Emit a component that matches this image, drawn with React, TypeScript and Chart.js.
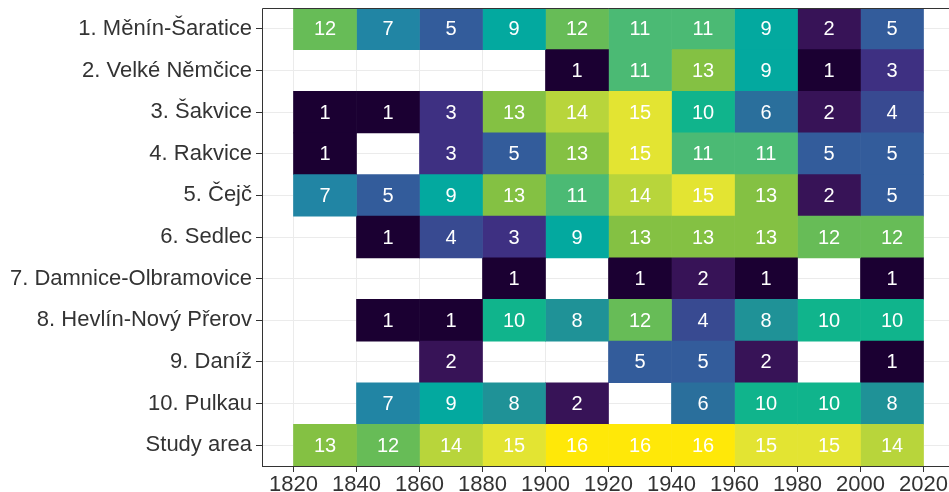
import React, { useEffect, useRef } from "react";
import { Chart, registerables } from "chart.js";

Chart.register(...registerables);

const sites = [
  "1. Měnín-Šaratice",
  "2. Velké Němčice",
  "3. Šakvice",
  "4. Rakvice",
  "5. Čejč",
  "6. Sedlec",
  "7. Damnice-Olbramovice",
  "8. Hevlín-Nový Přerov",
  "9. Daníž",
  "10. Pulkau",
  "Study area",
];

const periodStarts = [1820, 1840, 1860, 1880, 1900, 1920, 1940, 1960, 1980, 2000];
const periodLength = 20;
const xTicks = [1820, 1840, 1860, 1880, 1900, 1920, 1940, 1960, 1980, 2000, 2020];

// values per site, one entry per period (null = no data)
const menin = [12, 7, 5, 9, 12, 11, 11, 9, 2, 5];
const velkeNemcice = [null, null, null, null, 1, 11, 13, 9, 1, 3];
const sakvice = [1, 1, 3, 13, 14, 15, 10, 6, 2, 4];
const rakvice = [1, null, 3, 5, 13, 15, 11, 11, 5, 5];
const cejc = [7, 5, 9, 13, 11, 14, 15, 13, 2, 5];
const sedlec = [null, 1, 4, 3, 9, 13, 13, 13, 12, 12];
const damnice = [null, null, null, 1, null, 1, 2, 1, null, 1];
const hevlin = [null, 1, 1, 10, 8, 12, 4, 8, 10, 10];
const daniz = [null, null, 2, null, null, 5, 5, 2, null, 1];
const pulkau = [null, 7, 9, 8, 2, null, 6, 10, 10, 8];
const studyArea = [13, 12, 14, 15, 16, 16, 16, 15, 15, 14];

const rows: (number | null)[][] = [
  menin, velkeNemcice, sakvice, rakvice, cejc, sedlec, damnice, hevlin, daniz, pulkau, studyArea,
];

const palette = [
  "#1B0032", "#371357", "#3E3082", "#384A91", "#335C9B", "#2A6F9C", "#2185A4", "#1F9297",
  "#03A99F", "#10B48C", "#4BBA74", "#67BC57", "#84C143", "#B8D53B", "#E3E432", "#FFE808",
];

const FONT = "'Liberation Sans', Arial, Helvetica, sans-serif";

export default function App() {
  const ref = useRef<HTMLCanvasElement | null>(null);

  useEffect(() => {
    if (!ref.current) return;
    const datasets = periodStarts.map((start, pi) => {
      const vals = rows.map((r) => r[pi]);
      return {
        label: String(start),
        data: vals.map((v) => (v == null ? null : [start, start + periodLength])) as any,
        values: vals,
        backgroundColor: vals.map((v) => (v == null ? "rgba(0,0,0,0)" : palette[v - 1])),
        borderWidth: 0,
        barPercentage: 1,
        categoryPercentage: 1,
        grouped: false,
      };
    });

    const cellLabels = {
      id: "cellLabels",
      afterDatasetsDraw(chart: any) {
        const ctx = chart.ctx;
        ctx.save();
        ctx.fillStyle = "#FFFFFF";
        ctx.font = `20px ${FONT}`;
        ctx.textAlign = "center";
        ctx.textBaseline = "middle";
        chart.data.datasets.forEach((ds: any, di: number) => {
          const meta = chart.getDatasetMeta(di);
          meta.data.forEach((el: any, i: number) => {
            const v = ds.values[i];
            if (v == null) return;
            const p = el.getCenterPoint();
            ctx.fillText(String(v), p.x, p.y + 1);
          });
        });
        ctx.restore();
      },
      afterDraw(chart: any) {
        const { ctx, chartArea } = chart;
        ctx.save();
        ctx.strokeStyle = "#333333";
        ctx.lineWidth = 1;
        ctx.beginPath();
        ctx.moveTo(chartArea.left + 0.5, chartArea.bottom + 0.5);
        ctx.lineTo(chartArea.left + 0.5, chartArea.top + 0.5);
        ctx.lineTo(chartArea.right, chartArea.top + 0.5);
        ctx.moveTo(chartArea.left, chartArea.bottom + 0.5);
        ctx.lineTo(chartArea.right, chartArea.bottom + 0.5);
        ctx.stroke();
        ctx.restore();
      },
    };

    const chart = new Chart(ref.current, {
      type: "bar",
      data: { labels: sites, datasets: datasets as any },
      options: {
        indexAxis: "y",
        animation: false,
        responsive: false,
        layout: { padding: { top: 8, left: 0, right: 0, bottom: 0 } },
        plugins: { legend: { display: false }, tooltip: { enabled: false } },
        scales: {
          y: {
            type: "category",
            offset: true,
            grid: { offset: false, color: "#EBEBEB", tickColor: "#333333", tickLength: 6, lineWidth: 1 },
            border: { display: false },
            ticks: { color: "#333333", font: { family: FONT, size: 22 }, padding: 4, autoSkip: false },
            afterFit: (s: any) => {
              s.width = 262;
              s.paddingTop = 0;
              s.paddingBottom = 0;
            },
          },
          x: {
            type: "linear",
            min: 1810,
            max: 2030,
            grid: { color: "#EBEBEB", tickColor: "#333333", tickLength: 6, lineWidth: 1 },
            border: { display: false },
            ticks: {
              color: "#333333",
              font: { family: FONT, size: 22 },
              padding: 0,
              autoSkip: false,
              maxRotation: 0,
              callback: (v: any) => String(v),
            },
            afterBuildTicks: (s: any) => {
              s.ticks = xTicks.map((v) => ({ value: v }));
            },
            afterFit: (s: any) => {
              s.height = 26;
              s.paddingLeft = 0;
              s.paddingRight = 0;
            },
          },
        },
      },
      plugins: [cellLabels],
    });
    return () => chart.destroy();
  }, []);

  return (
    <div style={{ position: "fixed", left: 0, top: 0, width: 949, height: 492, overflow: "hidden", background: "#fff" }}>
      <canvas ref={ref} width={955} height={492} style={{ display: "block" }} />
    </div>
  );
}
